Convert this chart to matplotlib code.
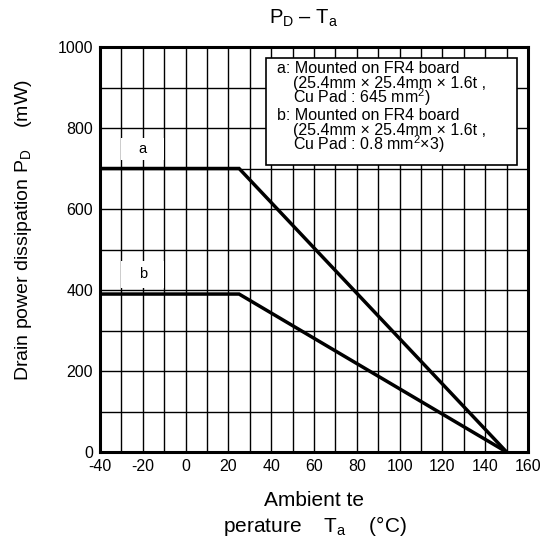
import matplotlib
matplotlib.use("Agg")
import matplotlib.pyplot as plt
from matplotlib.patches import Rectangle

plt.rcParams['font.family'] = ['Liberation Sans', 'DejaVu Sans']
plt.rcParams['mathtext.fontset'] = 'custom'
plt.rcParams['mathtext.rm'] = 'Liberation Sans'
plt.rcParams['mathtext.it'] = 'Liberation Sans'
plt.rcParams['axes.unicode_minus'] = False

# Data
temp_a = [-40, 25, 150]
pd_a = [700, 700, 0]
temp_b = [-40, 25, 150]
pd_b = [390, 390, 0]
x_ticks = [-40, -20, 0, 20, 40, 60, 80, 100, 120, 140, 160]
y_ticks = [0, 200, 400, 600, 800, 1000]
legend_lines = [
    "a: Mounted on FR4 board",
    "(25.4mm \u00d7 25.4mm \u00d7 1.6t ,",
    "Cu Pad : 645 mm$^{\\mathregular{2}}$)",
    "b: Mounted on FR4 board",
    "(25.4mm \u00d7 25.4mm \u00d7 1.6t ,",
    "Cu Pad : 0.8 mm$^{\\mathregular{2}}$\u00d73)",
]

fig = plt.figure(figsize=(5.42, 5.48), dpi=100)
ax = fig.add_axes([100/542, 1 - 452/548, 428/542, 405/548])
ax.set_xlim(-40, 160)
ax.set_ylim(0, 1000)

# grid
for xv in range(-40, 161, 10):
    ax.axvline(xv, color='black', lw=1.0, zorder=1)
for yv in range(0, 1001, 100):
    ax.axhline(yv, color='black', lw=1.0, zorder=1)

ax.set_xticks(x_ticks)
ax.set_yticks(y_ticks)
ax.tick_params(length=0, labelsize=11.5, pad=5)
for s in ax.spines.values():
    s.set_linewidth(2.2)
    s.set_zorder(6)

# label boxes a, b
ax.add_patch(Rectangle((-30, 720), 20, 55, facecolor='white', edgecolor='none', zorder=2))
ax.text(-20, 747, "a", ha='center', va='center', fontsize=10.5, zorder=3)
ax.add_patch(Rectangle((-30, 406), 20, 66, facecolor='white', edgecolor='none', zorder=2))
ax.text(-20, 439, "b", ha='center', va='center', fontsize=10.5, zorder=3)

ax.plot(temp_a, pd_a, color='black', lw=2.5, zorder=4, solid_joinstyle='miter')
ax.plot(temp_b, pd_b, color='black', lw=2.5, zorder=4, solid_joinstyle='miter')

# legend box
ax.add_patch(Rectangle((37.6, 709), 117.1, 264, facecolor='white', edgecolor='black', lw=1.2, zorder=5))
ys = [0.947, 0.910, 0.875, 0.832, 0.795, 0.760]
xs = [0.413, 0.451, 0.451, 0.413, 0.451, 0.451]
for t, xx, yy in zip(legend_lines, xs, ys):
    ax.text(xx, yy, t, transform=ax.transAxes, fontsize=11.5, ha='left', va='center', zorder=6)

fig.text(304/542, 1 - 18/548, "P$_\\mathregular{D}$ \u2013 T$_\\mathregular{a}$", ha='center', va='center', fontsize=14.5)
fig.text(24/542, 1 - 230/548, "Drain power dissipation P$_\\mathregular{D}$    (mW)",
         rotation=90, ha='center', va='center', fontsize=14)
fig.text(314/542, 1 - 500/548, "Ambient te", ha='center', va='center', fontsize=15)
fig.text(315/542, 1 - 526/548, "perature    T$_\\mathregular{a}$    (\u00b0C)", ha='center', va='center', fontsize=15)

fig.savefig("out.png", dpi=100)
